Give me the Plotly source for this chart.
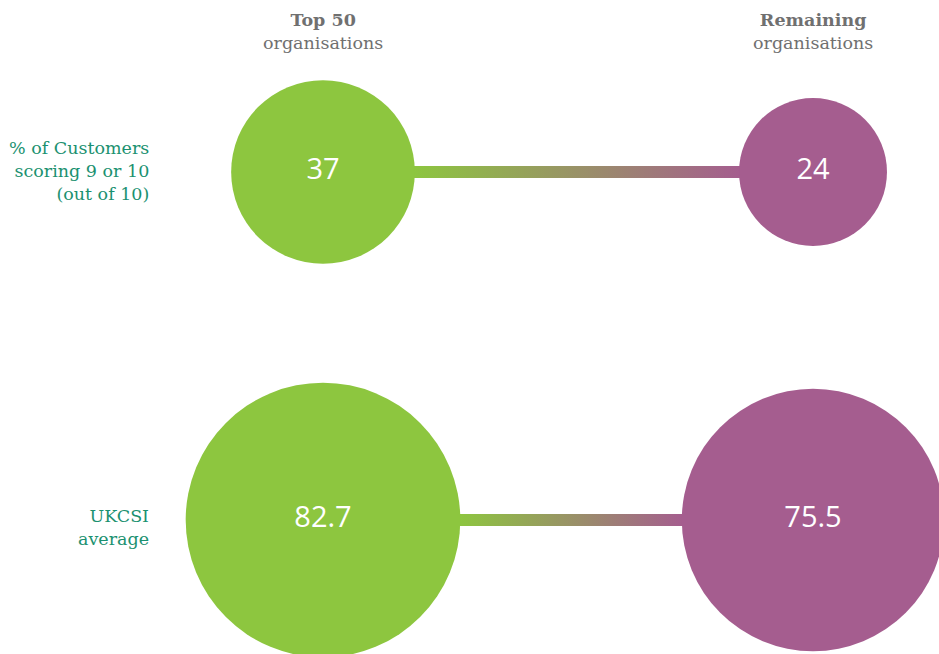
import plotly.graph_objects as go

# Data
groups = ["<b>Top 50</b><br>organisations", "<b>Remaining</b><br>organisations"]
metrics = ["% of Customers<br>scoring 9 or 10<br>(out of 10)", "UKCSI<br>average"]
top50 = [37, 82.7]
remaining = [24, 75.5]
value_labels_top50 = ["37", "82.7"]
value_labels_remaining = ["24", "75.5"]

# Styling / layout constants
W, H = 939, 654
GREEN = "#8DC63F"
PURPLE = "#A55D8F"
LABEL_COLOR = "#1B9170"
HEADER_COLOR = "#707070"
COL_X = [323, 813]
ROW_Y = [172, 520]
PX_PER_SQRT = 30.2          # bubble diameter (px) per sqrt(value)
SIZEREF = 2.0 / PX_PER_SQRT ** 2
BAR_HALF = 6

fig = go.Figure()

# gradient connectors between the two bubbles of each row
for i, y in enumerate(ROW_Y):
    r_left = PX_PER_SQRT * top50[i] ** 0.5 / 2
    r_right = PX_PER_SQRT * remaining[i] ** 0.5 / 2
    x0 = COL_X[0] + r_left - 2
    x1 = COL_X[1] - r_right + 2
    fig.add_trace(go.Scatter(
        x=[x0, x1, x1, x0, x0],
        y=[y - BAR_HALF, y - BAR_HALF, y + BAR_HALF, y + BAR_HALF, y - BAR_HALF],
        mode="lines", line=dict(width=0), fill="toself",
        fillgradient=dict(type="horizontal",
                          colorscale=[[0, GREEN], [1, PURPLE]]),
        hoverinfo="skip", showlegend=False,
    ))

# bubbles, area proportional to value
for vals, labels, x, color in [
    (top50, value_labels_top50, COL_X[0], GREEN),
    (remaining, value_labels_remaining, COL_X[1], PURPLE),
]:
    fig.add_trace(go.Scatter(
        x=[x] * len(vals), y=ROW_Y,
        mode="markers+text",
        marker=dict(size=vals, sizemode="area", sizeref=SIZEREF,
                    color=color, line=dict(width=0), opacity=1),
        text=labels, textposition="middle center",
        textfont=dict(family="Open Sans", size=29, color="white"),
        cliponaxis=False, hoverinfo="skip", showlegend=False,
    ))

# column headers
for g, x in zip(groups, COL_X):
    fig.add_annotation(x=x, y=31, xref="x", yref="y", text=g, showarrow=False,
                       xanchor="center", yanchor="middle", align="center",
                       font=dict(family="DejaVu Serif", size=17.5, color=HEADER_COLOR))

# row labels
for m, y in zip(metrics, [171, 527]):
    fig.add_annotation(x=151, y=y, xref="x", yref="y", text=m, showarrow=False,
                       xanchor="right", yanchor="middle", align="right",
                       font=dict(family="DejaVu Serif", size=17.5, color=LABEL_COLOR))

fig.update_layout(
    width=W, height=H,
    margin=dict(l=0, r=0, t=0, b=0),
    paper_bgcolor="white", plot_bgcolor="white",
    xaxis=dict(range=[0, W], visible=False, fixedrange=True),
    yaxis=dict(range=[H, 0], visible=False, fixedrange=True),
    showlegend=False,
)

fig.write_html("out.html")
